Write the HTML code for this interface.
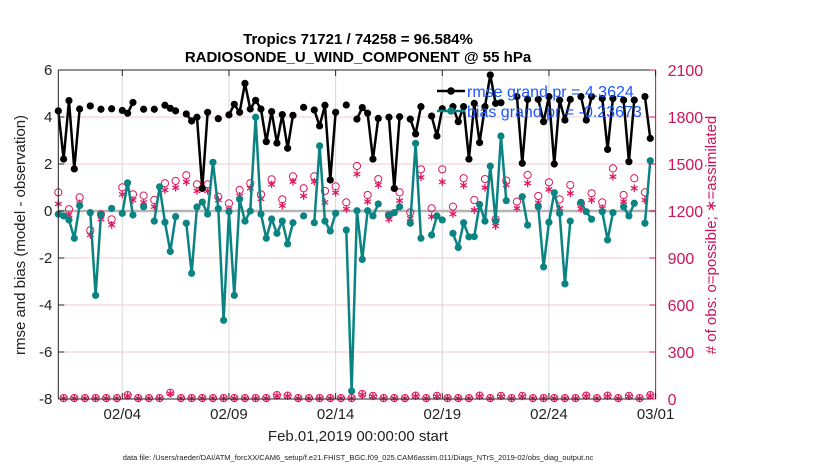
<!DOCTYPE html>
<html><head><meta charset="utf-8">
<style>
html,body{margin:0;padding:0;background:#fff;}
svg{display:block;font-family:"Liberation Sans",Arial,sans-serif;}
</style></head>
<body>
<svg id="chart" width="830" height="470" viewBox="0 0 830 470" xmlns="http://www.w3.org/2000/svg">
<rect x="0" y="0" width="830" height="470" fill="#fff"/>
<text x="358" y="44" text-anchor="middle" font-size="15" font-weight="bold">Tropics 71721 / 74258 = 96.584%</text>
<text x="358" y="62" text-anchor="middle" font-size="15" font-weight="bold">RADIOSONDE_U_WIND_COMPONENT @ 55 hPa</text>
<g id="grid"></g>
<g id="series"></g>
<g id="axes"></g>
<text transform="translate(25,235) rotate(-90)" text-anchor="middle" font-size="15" fill="#222">rmse and bias (model - observation)</text>
<text transform="translate(716,235) rotate(-90)" text-anchor="middle" font-size="15" fill="#d0125a"># of obs: o=possible; ∗=assimilated</text>
<text x="358" y="441" text-anchor="middle" font-size="15" fill="#222">Feb.01,2019 00:00:00 start</text>
<text x="358" y="460" text-anchor="middle" font-size="7.5" fill="#222">data file: /Users/raeder/DAI/ATM_forcXX/CAM6_setup/f.e21.FHIST_BGC.f09_025.CAM6assim.011/Diags_NTrS_2019-02/obs_diag_output.nc</text>
<g>
  <line x1="437" y1="91" x2="465" y2="91" stroke="#000" stroke-width="2.5"/>
  <circle cx="451" cy="91" r="3.8" fill="#000"/>
  <text x="467" y="97" font-size="16" fill="#1a55ff">rmse grand pr = 4.3624</text>
  <line x1="437" y1="111" x2="465" y2="111" stroke="#0b8383" stroke-width="2.5"/>
  <circle cx="451" cy="111" r="3.8" fill="#0b8383"/>
  <text x="467" y="117" font-size="16" fill="#1a55ff">bias grand pr = -0.23673</text>
</g>
</svg>
<script>
// 6-hourly slots from Feb 01 00Z; null = no data
const rmse = [4.26,2.21,4.7,1.79,4.34,null,4.47,null,4.33,null,
4.35,null,4.28,4.16,4.62,null,4.33,null,4.33,null,
4.5,4.37,4.26,null,4.13,3.83,3.99,0.96,4.2,null,
3.93,null,4.09,4.54,4.2,5.43,4.34,4.71,4.34,2.95,
4.23,2.89,4.1,2.67,4.07,null,4.41,null,4.3,3.62,
4.5,1.32,4.2,null,4.51,null,3.91,4.4,4.16,2.21,
3.94,null,3.99,0.96,4.01,null,3.91,3.28,4.44,null,
4.04,3.19,4.35,null,4.44,3.8,4.44,2.21,4.58,2.91,
4.44,5.79,4.58,4.61,null,null,4.87,2.03,4.75,null,
4.75,3.8,4.87,2.0,4.72,3.87,4.75,null,4.87,3.87,
4.87,null,4.79,2.62,4.79,null,4.72,2.1,4.72,null,
4.87,3.09,null];
const bias = [-0.13,-0.21,-0.38,-1.16,0.23,null,-0.07,-3.59,-0.14,null,
0.11,null,-0.1,1.2,-0.17,null,0.18,null,-0.43,1.03,
-0.48,-1.72,-0.24,null,-0.52,-2.65,0.17,0.38,-0.13,2.07,
0.1,-4.65,-0.03,-3.59,0.5,-0.43,0,3.99,-0.13,-1.16,
-0.34,-0.95,-0.43,-1.4,-0.5,null,-0.21,null,-0.5,2.77,
-0.43,-0.85,-0.1,null,-0.81,-7.66,0.01,-2.06,0.01,-0.21,
0.3,null,-0.17,-0.07,0.18,null,-0.52,2.88,-1.16,null,
-1.02,-0.21,-0.38,null,-0.95,-1.55,-0.5,-1.1,-1.09,0.28,
-0.43,1.91,-0.43,3.19,0.44,null,null,0.61,-0.6,null,
0.18,-2.38,-0.48,0.78,-0.1,-3.1,-0.43,null,0.37,-0.03,
-0.35,null,-0.03,-1.23,-0.07,null,0.18,-0.21,0.33,null,
-0.52,2.14,null];
// counts at 00Z/12Z slots (even)
const possible12 = [1319,1211,1287,1077,1179,1147,1351,1306,1298,1270,1377,1392,1428,1370,1370,1291,1249,1334,1377,1306,1402,1274,1421,1345,1421,1328,1357,1255,1487,1302,1404,1174,1319,1191,1466,1217,1466,1228,1409,1270,1404,1147,1394,1260,1430,1296,1383,1274,1366,1249,1313,1255,1472,1302,1409,1319];
const assim12 = [1245,1174,1249,1047,1147,1111,1306,1270,1255,1228,1334,1349,1385,1328,1328,1270,1211,1296,1345,1277,1370,1234,1387,1296,1387,1255,1317,1213,1436,1260,1366,1147,1266,1153,1415,1164,1385,1181,1364,1206,1349,1104,1366,1217,1377,1253,1338,1217,1313,1213,1270,1217,1419,1260,1345,1270];
// counts at 06Z/18Z slots (odd)
const possible06 = [6,6,6,6,6,6,25,6,6,6,40,6,6,6,6,6,6,6,6,6,25,22,6,6,6,6,6,6,32,20,6,6,6,22,6,20,6,6,6,22,6,20,6,20,6,6,6,6,6,22,6,22,6,20,6,25];
const assim06 = [4,4,4,4,4,4,20,4,4,4,34,4,4,4,4,4,4,4,4,4,20,18,4,4,4,4,4,4,27,16,4,4,4,18,4,16,4,4,4,18,4,16,4,16,4,4,4,4,4,18,4,18,4,16,4,20];
const leftTicks = [-8,-6,-4,-2,0,2,4,6];
const rightTicks = [0,300,600,900,1200,1500,1800,2100];
const dateTickDays = [3,8,13,18,23,28];
const dateTickLabels = ["02/04","02/09","02/14","02/19","02/24","03/01"];

const NS = "http://www.w3.org/2000/svg";
const X0 = 58.3, X1 = 655.6, Y0 = 70, Y1 = 399;
const xDay = d => X0 + (X1 - X0) * d / 28;
const xSlot = k => xDay(k * 0.25);
const yL = v => Y1 - (v + 8) / 14 * (Y1 - Y0);
const yR = c => Y1 - c / 2100 * (Y1 - Y0);
function mk(tag, attrs, parent) {
  const e = document.createElementNS(NS, tag);
  for (const a in attrs) e.setAttribute(a, attrs[a]);
  parent.appendChild(e);
  return e;
}
const grid = document.getElementById('grid');
const series = document.getElementById('series');
const axes = document.getElementById('axes');

// horizontal grid
leftTicks.forEach(v => {
  const l = mk('line', {x1: X0, x2: X1, y1: yL(v), y2: yL(v), stroke: '#f4c9d8', 'stroke-width': 1}, grid);
  
  
});
// vertical grid
dateTickDays.forEach(d => {
  const l = mk('line', {x1: xDay(d), x2: xDay(d), y1: Y0, y2: Y1, stroke: '#d8d8d8', 'stroke-width': 1}, grid);
  
  
});
// zero line
const z = mk('line', {x1: X0, x2: X1, y1: yL(0), y2: yL(0), stroke: '#b5b5b5', 'stroke-width': 2.5}, grid);



// count markers
function circleMark(x, y, name) {
  const c = mk('circle', {cx: x, cy: y, r: 3.6, fill: 'none', stroke: '#e0175f', 'stroke-width': 1}, series);
  
  
}
function starMark(x, y, name) {
  const r = 3.8;
  let d = '';
  for (let i = 0; i < 3; i++) {
    const a = Math.PI / 2 + i * Math.PI / 3;
    d += `M${x + r * Math.cos(a)},${y + r * Math.sin(a)}L${x - r * Math.cos(a)},${y - r * Math.sin(a)}`;
  }
  const p = mk('path', {d: d, stroke: '#e0175f', 'stroke-width': 1.3, fill: 'none'}, series);
  
  
}
possible12.forEach((c, i) => circleMark(xSlot(2 * i), yR(c), 'possible-marker'));
assim12.forEach((c, i) => starMark(xSlot(2 * i), yR(c), 'assimilated-marker'));
possible06.forEach((c, i) => circleMark(xSlot(2 * i + 1), yR(c), 'possible-marker'));
assim06.forEach((c, i) => starMark(xSlot(2 * i + 1), yR(c), 'assimilated-marker'));

// line series with breaks
function drawSeries(arr, color, name) {
  let d = '', open = false;
  arr.forEach((v, k) => {
    if (v === null) { open = false; return; }
    d += (open ? 'L' : 'M') + xSlot(k).toFixed(2) + ',' + yL(v).toFixed(2);
    open = true;
  });
  const p = mk('path', {d: d, stroke: color, 'stroke-width': 2.5, fill: 'none', 'stroke-linejoin': 'round'}, series);
  
  
  arr.forEach((v, k) => {
    if (v === null) return;
    const c = mk('circle', {cx: xSlot(k), cy: yL(v), r: 3.6, fill: color}, series);
    
    
  });
}
drawSeries(rmse, '#000', 'rmse');
drawSeries(bias, '#0b8383', 'bias');

// axes
const ax = [
  [X0, Y0, X0, Y1, '#222', 'left-axis'],
  [X0, Y1, X1, Y1, '#222', 'bottom-axis'],
  [X0, Y0, X1, Y0, '#222', 'top-axis'],
  [X1, Y0, X1, Y1, '#d0125a', 'right-axis']
];
ax.forEach(a => {
  const l = mk('line', {x1: a[0], y1: a[1], x2: a[2], y2: a[3], stroke: a[4], 'stroke-width': 1}, axes);
  
  
});
leftTicks.forEach(v => {
  const t = mk('line', {x1: X0, x2: X0 + 6, y1: yL(v), y2: yL(v), stroke: '#222'}, axes);
  
  
  const tx = mk('text', {x: X0 - 6, y: yL(v) + 5, 'text-anchor': 'end', 'font-size': 15, fill: '#222'}, axes);
  tx.textContent = String(v);
  
  
});
rightTicks.forEach(c => {
  const t = mk('line', {x1: X1 - 6, x2: X1, y1: yR(c), y2: yR(c), stroke: '#d0125a'}, axes);
  
  
  const tx = mk('text', {x: X1 + 12, y: yR(c) + 6, 'text-anchor': 'start', 'font-size': 16, fill: '#d0125a'}, axes);
  tx.textContent = String(c);
  
  
});
dateTickDays.forEach((d, i) => {
  const t = mk('line', {x1: xDay(d), x2: xDay(d), y1: Y1 - 6, y2: Y1, stroke: '#222'}, axes);
  
  
  const t2 = mk('line', {x1: xDay(d), x2: xDay(d), y1: Y0, y2: Y0 + 6, stroke: '#222'}, axes);
  
  
  const tx = mk('text', {x: xDay(d), y: Y1 + 20, 'text-anchor': 'middle', 'font-size': 15, fill: '#222'}, axes);
  tx.textContent = dateTickLabels[i];
  
  
});
</script>
</body></html>
